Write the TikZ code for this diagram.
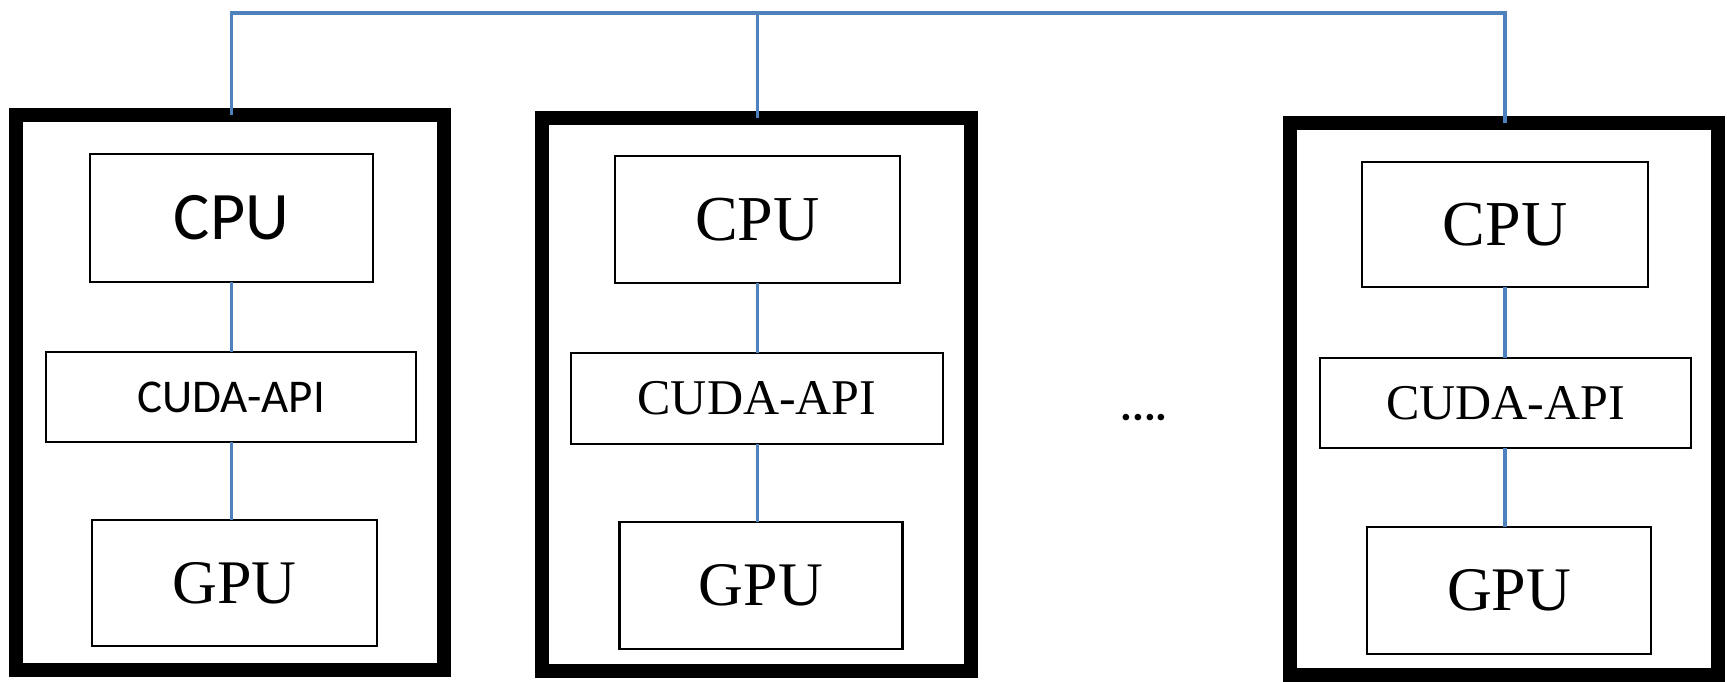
\documentclass[tikz,border=0pt]{standalone}
\usepackage{fontspec}
\setmainfont{Liberation Serif}
\newfontfamily\calib{Carlito}
\definecolor{linkblue}{RGB}{79,129,189}
\tikzset{
  outerbox/.style={draw=black, line width=6.6pt, inner sep=0pt, outer sep=0pt},
  unitbox/.style={draw=black, line width=1.2pt, inner sep=0pt, outer sep=0pt, fill=white},
  link/.style={draw=linkblue, line width=1.6pt},
  sz/.style 2 args={minimum width=#1*0.5pt, minimum height=#2*0.5pt},
}
\begin{document}
\begin{tikzpicture}[x=0.5pt,y=-0.5pt]
\useasboundingbox (0,0) rectangle (1727,681);
% outer boxes
\node[outerbox, sz={428}{555}] (b1) at (230,392.5) {};
\node[outerbox, sz={429}{553}] (b2) at (756.5,394.5) {};
\node[outerbox, sz={428}{552}] (b3) at (1504,399) {};
% inner boxes, node 1
\node[unitbox, sz={283}{128}, font=\calib\fontsize{34pt}{36pt}\selectfont] (cpu1) at (231.5,218) {CPU};
\node[unitbox, sz={370}{90}, font=\calib\fontsize{23.5pt}{26pt}\selectfont] (cuda1) at (231,397) {CUDA-API};
\node[unitbox, sz={285}{126}, font=\fontsize{31pt}{33pt}\selectfont] (gpu1) at (234.5,583) {GPU};
% node 2
\node[unitbox, sz={285}{127}, font=\fontsize{32pt}{34pt}\selectfont] (cpu2) at (757.5,219.5) {CPU};
\node[unitbox, sz={372}{91}, font=\fontsize{25pt}{27pt}\selectfont] (cuda2) at (757,398.5) {CUDA-API};
\node[unitbox, sz={283}{127}, font=\fontsize{31pt}{33pt}\selectfont] (gpu2) at (761,585.5) {GPU};
% node 3
\node[unitbox, sz={286}{125}, font=\fontsize{32pt}{34pt}\selectfont] (cpu3) at (1505,224.5) {CPU};
\node[unitbox, sz={371}{90}, font=\fontsize{25pt}{27pt}\selectfont] (cuda3) at (1505.5,403) {CUDA-API};
\node[unitbox, sz={284}{127}, font=\fontsize{31pt}{33pt}\selectfont] (gpu3) at (1509,590.5) {GPU};
% dots
\node[font=\calib\bfseries\fontsize{22pt}{24pt}\selectfont, inner sep=0pt] (dots) at (1144,418) {....};
% internal links
\foreach \i in {1,2,3}{
  \draw[link] (cpu\i.south) -- (cpu\i.south |- cuda\i.north);
  \draw[link] (cpu\i.south |- cuda\i.south) -- (cpu\i.south |- gpu\i.north);
}
% top bus
\coordinate (t1) at (231.5,13);
\coordinate (t3) at (1505,13);
\draw[link] (b1.north -| cpu1.south) -- (t1) -- (t3) -- (b3.north -| cpu3.south);
\draw[link] (b2.north -| cpu2.south) -- (t1 -| cpu2.south);
\end{tikzpicture}
\end{document}
